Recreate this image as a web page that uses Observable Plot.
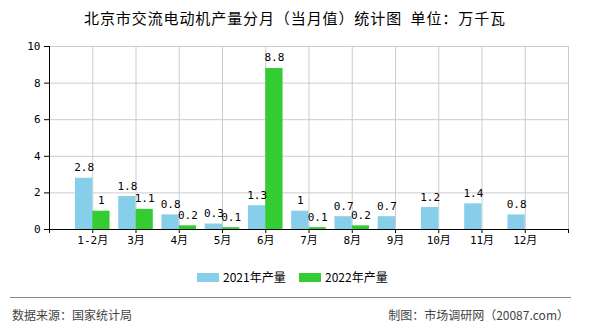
<!DOCTYPE html>
<html><head><meta charset="utf-8">
<script src="https://cdn.jsdelivr.net/npm/d3@7"></script>
<script src="https://cdn.jsdelivr.net/npm/@observablehq/plot@0.6"></script>
<style>
body{margin:0;background:#fff;font-family:"Noto Sans CJK SC",sans-serif}
#wrap{position:relative;width:590px;height:330px;overflow:hidden;background:#fff}
#title{position:absolute;left:0;top:8px;width:590px;text-align:center;font-size:15px;letter-spacing:0.9px;color:#000;line-height:20px;white-space:pre}
#chart{position:absolute;left:0;top:36px}
#legend{position:absolute;top:268px;left:0;width:590px;font-size:12px;line-height:18px;color:#000}
.item{position:absolute;top:0;white-space:nowrap}
.sw{display:inline-block;width:22px;height:9px;vertical-align:middle;margin-right:4px;position:relative;top:-1px}
#line{position:absolute;left:10px;top:297px;width:561px;height:1px;background:#888}
#src{position:absolute;left:12px;top:306px;font-size:12px;color:#444;line-height:18px}
#by{position:absolute;right:21px;top:306px;font-size:12px;color:#444;line-height:18px}
</style></head>
<body>
<div id="wrap">
  <div id="title">北京市交流电动机产量分月（当月值）统计图  单位：万千瓦</div>
  <div id="chart"></div>
  <div id="legend"></div>
  <div id="line"></div>
  <div id="src">数据来源：国家统计局</div>
  <div id="by">制图：市场调研网（20087.com）</div>
</div>
<script>
const months = ["1-2月","3月","4月","5月","6月","7月","8月","9月","10月","11月","12月"];
const v2021 = [2.8, 1.8, 0.8, 0.3, 1.3, 1, 0.7, 0.7, 1.2, 1.4, 0.8];
const v2022 = [1, 1.1, 0.2, 0.1, 8.8, 0.1, 0.2, null, null, null, null];
const seriesNames = ["2021年产量", "2022年产量"];
const colors = ["#87CEEB", "#33CC33"];
const yTicks = [0, 2, 4, 6, 8, 10];

const rows = [];
[v2021, v2022].forEach((vals, s) => {
  vals.forEach((v, i) => {
    if (v != null) rows.push({pos: i + 1, s, series: seriesNames[s], value: v});
  });
});
const W = 0.4;
const bx1 = d => d.s === 0 ? d.pos - W : d.pos;
const bx2 = d => d.s === 0 ? d.pos : d.pos + W;

const font = "'DejaVu Sans Mono','Noto Sans CJK SC',monospace";
const chart = Plot.plot({
  width: 590,
  height: 220,
  marginLeft: 49,
  marginRight: 22,
  marginTop: 10,
  marginBottom: 27,
  style: {fontFamily: font, fontSize: "11px", color: "#000", background: "#fff"},
  x: {type: "linear", domain: [0, 12]},
  y: {domain: [0, 10]},
  color: {domain: seriesNames, range: colors},
  marks: [
    Plot.ruleX(d3.range(1, 13), {stroke: "#cccccc", strokeWidth: 1}),
    Plot.ruleY(yTicks.slice(1), {stroke: "#cccccc", strokeWidth: 1}),
    Plot.rectY(rows, {x1: bx1, x2: bx2, y: "value", fill: "series"}),
    Plot.text(rows, {x: d => (bx1(d) + bx2(d)) / 2, y: "value", text: d => String(d.value), dy: -7, lineAnchor: "bottom", fill: "#000", fontSize: 11}),
    Plot.ruleX([0], {stroke: "#000", strokeWidth: 1}),
    Plot.ruleY([0], {stroke: "#000", strokeWidth: 1}),
    Plot.axisY({ticks: yTicks, tickSize: 5, tickPadding: 4, label: null, stroke: "#000", fontSize: 11}),
    Plot.axisX({ticks: d3.range(0, 13), tickFormat: d => months[d - 1] ?? "", tickSize: 4, tickPadding: 3, label: null, stroke: "#000", fontSize: 11})
  ]
});
document.getElementById("chart").appendChild(chart);

const legend = document.getElementById("legend");
const lx = [197, 299];
seriesNames.forEach((n, i) => {
  const el = document.createElement("div");
  el.className = "item";
  el.style.left = lx[i] + "px";
  el.innerHTML = `<span class="sw" style="background:${colors[i]}"></span>${n}`;
  legend.appendChild(el);
});
</script>
</body></html>
